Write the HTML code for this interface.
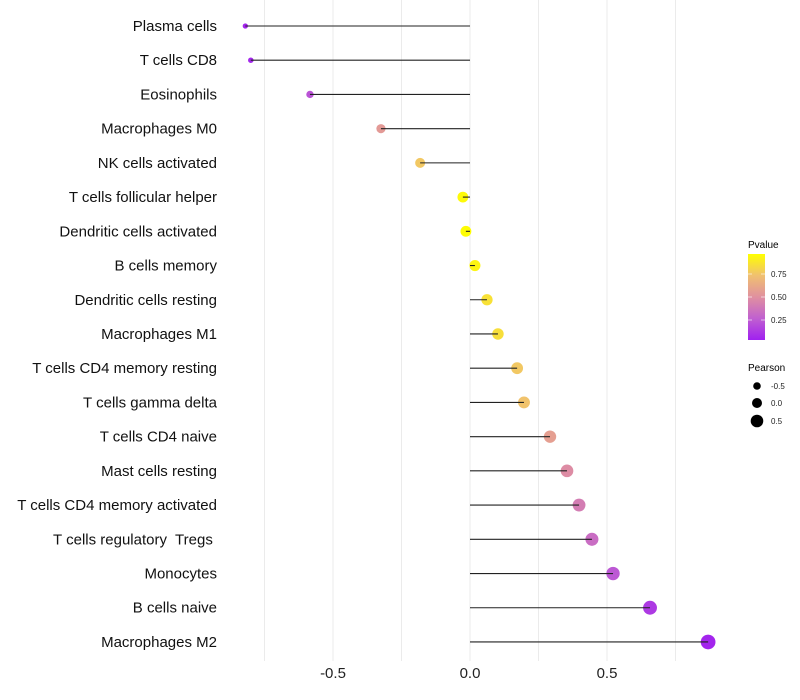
<!DOCTYPE html>
<html><head><meta charset="utf-8"><style>
body{margin:0;background:#fff;font-family:"Liberation Sans",sans-serif}
svg{display:block}
</style></head><body>
<svg id="chart" width="800" height="700" xmlns="http://www.w3.org/2000/svg">
<g id="grid"></g>
<g id="marks"></g>
<g id="ylabels"></g>
<g id="xlabels"></g>
<g>
<defs><linearGradient id="pg" x1="0" y1="1" x2="0" y2="0">
<stop offset="0" stop-color="#A020F0"/><stop offset="0.25" stop-color="#C060D0"/><stop offset="0.5" stop-color="#E090A0"/><stop offset="0.75" stop-color="#F0C070"/><stop offset="1" stop-color="#FFFF00"/></linearGradient></defs>
<text x="748" y="248" font-size="10" fill="#000">Pvalue</text>
<rect x="748" y="254" width="17" height="86" fill="url(#pg)"/>
<line x1="748" y1="274" x2="752" y2="274" stroke="#fff" stroke-width="0.6"/><line x1="761" y1="274" x2="765" y2="274" stroke="#fff" stroke-width="0.6"/>
<line x1="748" y1="297" x2="752" y2="297" stroke="#fff" stroke-width="0.6"/><line x1="761" y1="297" x2="765" y2="297" stroke="#fff" stroke-width="0.6"/>
<line x1="748" y1="320" x2="752" y2="320" stroke="#fff" stroke-width="0.6"/><line x1="761" y1="320" x2="765" y2="320" stroke="#fff" stroke-width="0.6"/>
<text x="771" y="277" font-size="8" fill="#222">0.75</text>
<text x="771" y="300" font-size="8" fill="#222">0.50</text>
<text x="771" y="323" font-size="8" fill="#222">0.25</text>
</g>
<g>
<text x="748" y="371" font-size="10" fill="#000">Pearson</text>
<circle cx="757" cy="386" r="3.8" fill="#000"/><text x="771" y="389" font-size="8" fill="#222">-0.5</text>
<circle cx="757" cy="403" r="5" fill="#000"/><text x="771" y="406" font-size="8" fill="#222">0.0</text>
<circle cx="757" cy="421" r="6.3" fill="#000"/><text x="771" y="424" font-size="8" fill="#222">0.5</text>
</g>
</svg>
<script>
const categories=["Plasma cells","T cells CD8","Eosinophils","Macrophages M0","NK cells activated","T cells follicular helper","Dendritic cells activated","B cells memory","Dendritic cells resting","Macrophages M1","T cells CD4 memory resting","T cells gamma delta","T cells CD4 naive","Mast cells resting","T cells CD4 memory activated","T cells regulatory  Tregs ","Monocytes","B cells naive","Macrophages M2"];
const pearson=[-0.82,-0.80,-0.584,-0.325,-0.182,-0.026,-0.015,0.018,0.062,0.102,0.172,0.197,0.292,0.354,0.398,0.445,0.522,0.657,0.869];
const pvalue=[0.02,0.03,0.2,0.55,0.78,0.98,0.99,0.96,0.88,0.87,0.78,0.76,0.58,0.48,0.4,0.32,0.22,0.1,0.02];
const xticks=[-0.5,0.0,0.5];
const xtickLabels=["-0.5","0.0","0.5"];
const gridVals=[-0.75,-0.5,-0.25,0,0.25,0.5,0.75];
const NS="http://www.w3.org/2000/svg";
const x=v=>470+v*274;
const y=i=>26+i*34.22;
const rad=v=>Math.sqrt(Math.max(4,30+28*v));
const stops=[[0,[160,32,240]],[0.25,[192,96,208]],[0.5,[224,144,160]],[0.75,[240,192,112]],[1,[255,255,0]]];
function col(p){for(let k=0;k<stops.length-1;k++){const[a,ca]=stops[k],[b,cb]=stops[k+1];if(p<=b){const t=(p-a)/(b-a);return`rgb(${ca.map((c,j)=>Math.round(c+(cb[j]-c)*t)).join(",")})`;}}return"rgb(255,255,0)";}
function mk(t,a,parent){const e=document.createElementNS(NS,t);for(const k in a)e.setAttribute(k,a[k]);parent.appendChild(e);return e;}
const grid=document.getElementById("grid"),marks=document.getElementById("marks"),yl=document.getElementById("ylabels"),xl=document.getElementById("xlabels");
gridVals.forEach(v=>{const l=mk("line",{x1:x(v),x2:x(v),y1:0,y2:661,stroke:"#ebebeb","stroke-width":1},grid);

});
categories.forEach((c,i)=>{
const pt=mk("circle",{cx:x(pearson[i]),cy:y(i),r:rad(pearson[i]),fill:col(pvalue[i])},marks);


const sg=mk("line",{x1:x(0),x2:x(pearson[i]),y1:y(i),y2:y(i),stroke:"#222","stroke-width":1.1},marks);


const t=mk("text",{x:217,y:y(i)+5,"text-anchor":"end","font-size":15,fill:"#111",style:"white-space:pre"},yl);t.textContent=c;


});
xticks.forEach((v,i)=>{const t=mk("text",{x:x(v),y:678,"text-anchor":"middle","font-size":15,fill:"#222"},xl);t.textContent=xtickLabels[i];

});
</script>
</body></html>
